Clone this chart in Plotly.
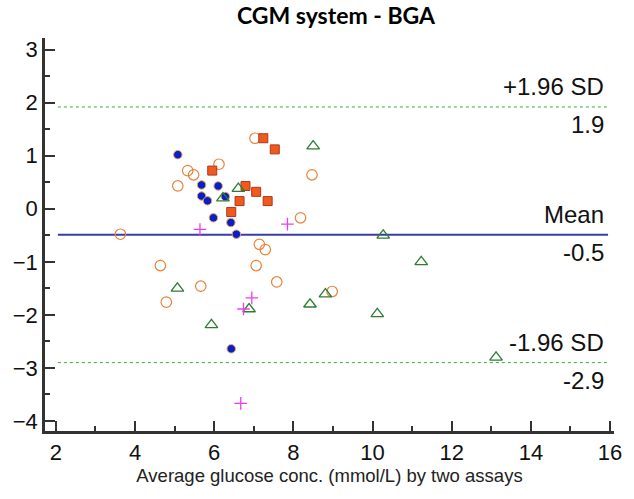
import plotly.graph_objects as go

# Blue filled circles
blue_x = [5.08, 5.68, 6.10, 5.68, 5.83, 6.28, 5.98, 6.42, 6.56, 6.43]
blue_y = [1.02, 0.45, 0.43, 0.24, 0.15, 0.23, -0.17, -0.26, -0.48, -2.64]

# Orange open circles
circ_x = [3.63, 5.33, 5.48, 5.08, 6.12, 7.03, 8.47, 8.18, 7.14, 7.29, 4.64, 7.06, 7.58, 5.66, 4.79, 8.98]
circ_y = [-0.48, 0.72, 0.64, 0.43, 0.84, 1.33, 0.64, -0.17, -0.67, -0.77, -1.07, -1.07, -1.38, -1.46, -1.76, -1.56]

# Orange filled squares
sq_x = [5.95, 7.24, 7.53, 6.79, 7.06, 6.64, 7.35, 6.43]
sq_y = [0.72, 1.33, 1.12, 0.43, 0.32, 0.145, 0.145, -0.06]

# Green open triangles
tri_x = [8.50, 6.61, 6.22, 10.27, 11.23, 5.07, 10.12, 8.42, 8.81, 6.88, 5.93, 13.12]
tri_y = [1.18, 0.38, 0.20, -0.50, -1.00, -1.50, -1.98, -1.80, -1.61, -1.89, -2.19, -2.80]

# Magenta crosses
cross_x = [5.64, 7.85, 6.95, 6.74, 6.67]
cross_y = [-0.39, -0.29, -1.68, -1.89, -3.67]

mean_val = -0.49
upper_val = 1.92
lower_val = -2.90
line_x = [2.05, 15.95]

fig = go.Figure()

fig.add_trace(go.Scatter(x=line_x, y=[upper_val, upper_val], mode="lines",
                         line=dict(color="#3DAA3D", width=1, dash="dot"), hoverinfo="skip"))
fig.add_trace(go.Scatter(x=line_x, y=[lower_val, lower_val], mode="lines",
                         line=dict(color="#3DAA3D", width=1, dash="dot"), hoverinfo="skip"))
fig.add_trace(go.Scatter(x=line_x, y=[mean_val, mean_val], mode="lines",
                         line=dict(color="#3A3AAA", width=2.2), hoverinfo="skip"))

fig.add_trace(go.Scatter(x=circ_x, y=circ_y, mode="markers",
                         marker=dict(symbol="circle-open", size=10.5, color="#E8823A",
                                     line=dict(width=1.2, color="#E8823A"))))
fig.add_trace(go.Scatter(x=sq_x, y=sq_y, mode="markers",
                         marker=dict(symbol="square", size=9, color="#F25A1C",
                                     line=dict(width=1, color="#A83A20"))))
fig.add_trace(go.Scatter(x=blue_x, y=blue_y, mode="markers",
                         marker=dict(symbol="circle", size=8.5, color="#0A1ECC",
                                     line=dict(width=1, color="#E8B050"))))
fig.add_trace(go.Scatter(x=tri_x, y=tri_y, mode="markers",
                         marker=dict(symbol="triangle-up-open", size=11, color="#2E7D32",
                                     line=dict(width=1.3, color="#2E7D32"))))
fig.add_trace(go.Scatter(x=cross_x, y=cross_y, mode="markers",
                         marker=dict(symbol="cross-thin-open", size=9, color="#F03CF0",
                                     line=dict(width=1.3, color="#F03CF0"))))

ann_font = dict(family="Liberation Sans, Arial, sans-serif", size=24, color="#111111")
labels = [
    ("+1.96 SD", upper_val, "bottom"), ("1.9", upper_val, "top"),
    ("Mean", mean_val, "bottom"), ("-0.5", mean_val, "top"),
    ("-1.96 SD", lower_val, "bottom"), ("-2.9", lower_val, "top"),
]
for txt, yv, anc in labels:
    fig.add_annotation(x=15.9, y=yv, text=txt, showarrow=False, xanchor="right",
                       yanchor=anc, font=ann_font, yshift=(5 if anc == "bottom" else -2))

fig.update_layout(
    width=634, height=499,
    margin=dict(l=45, r=14, t=38, b=68),
    paper_bgcolor="white", plot_bgcolor="white",
    showlegend=False,
    title=dict(text="<b>CGM system - BGA</b>", x=0.53, xanchor="center", y=0.985, yanchor="top",
               font=dict(family="Lato, sans-serif", size=23, color="#000000")),
)
fig.update_xaxes(
    range=[1.725, 16.1], tickmode="array", tickvals=[2, 4, 6, 8, 10, 12, 14, 16],
    ticks="inside", ticklen=10, tickwidth=2, tickcolor="#333333",
    minor=dict(tickmode="array", tickvals=[3, 5, 7, 9, 11, 13, 15], ticks="inside", ticklen=5, tickwidth=1.5, tickcolor="#333333"),
    showline=True, linecolor="#333333", linewidth=2.5, showgrid=False, zeroline=False,
    tickfont=dict(family="Liberation Sans, Arial, sans-serif", size=22, color="#111111"),
    title=dict(text="Average glucose conc. (mmol/L) by two assays", standoff=4,
               font=dict(family="Liberation Sans, Arial, sans-serif", size=18.5, color="#222222")),
)
fig.update_yaxes(
    range=[-4.19, 3.22], tickmode="array", tickvals=[-4, -3, -2, -1, 0, 1, 2, 3],
    ticks="inside", ticklen=10, tickwidth=2, tickcolor="#333333",
    minor=dict(tickmode="array", tickvals=[-3.5, -2.5, -1.5, -0.5, 0.5, 1.5, 2.5], ticks="inside", ticklen=5, tickwidth=1.5, tickcolor="#333333"),
    showline=True, linecolor="#333333", linewidth=2.5, showgrid=False, zeroline=False,
    tickfont=dict(family="Liberation Sans, Arial, sans-serif", size=22, color="#111111"),
)

fig.write_html("out.html")
